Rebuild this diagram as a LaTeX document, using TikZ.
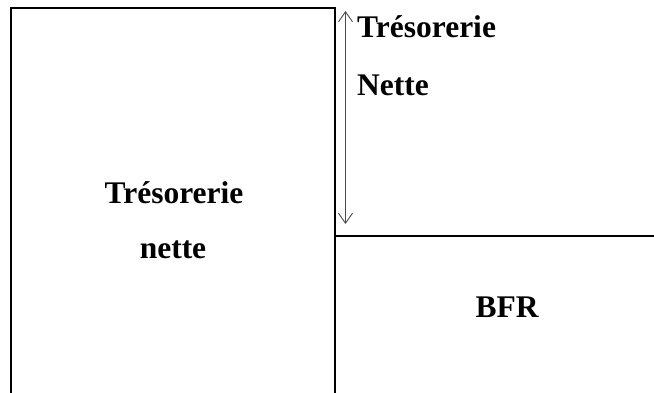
\documentclass[tikz,border=0pt]{standalone}
\usepackage{fontspec}
\setmainfont{Liberation Serif}
\usetikzlibrary{arrows.meta}
\begin{document}
\begin{tikzpicture}[x=1pt,y=-1pt,
  frame/.style={line width=1.6pt,black},
  label/.style={font=\bfseries\fontsize{31.5}{38}\selectfont,inner sep=0pt,anchor=base west},
  clabel/.style={font=\bfseries\fontsize{31.5}{38}\selectfont,inner sep=0pt,anchor=base},
  span/.style={draw=black!70,line width=0.9pt,{Straight Barb[length=10pt,width=14pt]}-{Straight Barb[length=10pt,width=14pt]}}]
\useasboundingbox (0,0) rectangle (654,392);
% left block, open at the bottom
\coordinate (lb) at (11,392);
\coordinate (lt) at (11,8);
\coordinate (rt) at (335,8);
\coordinate (rb) at (335,392);
\draw[frame,line cap=rect] (lb) -- (lt) -- (rt) -- (rb);
% right block: dividing line
\coordinate (hl) at (335,236);
\coordinate (hr) at (654,236);
\draw[line width=1.1pt] (hl) -- (hr);
% treasury span arrow
\coordinate (atop) at (345.5,11);
\coordinate (abot) at (345.5,224);
\draw[span] (abot) -- (atop);
% labels
\node[label] (tr1) at (357,37) {Trésorerie};
\node[label] (tr2) at (357,95) {Nette};
\node[clabel] (tl1) at (174,203) {Trésorerie};
\node[clabel] (tl2) at (173,258) {nette};
\node[clabel] (bfr) at (507,317) {BFR};
\end{tikzpicture}
\end{document}
